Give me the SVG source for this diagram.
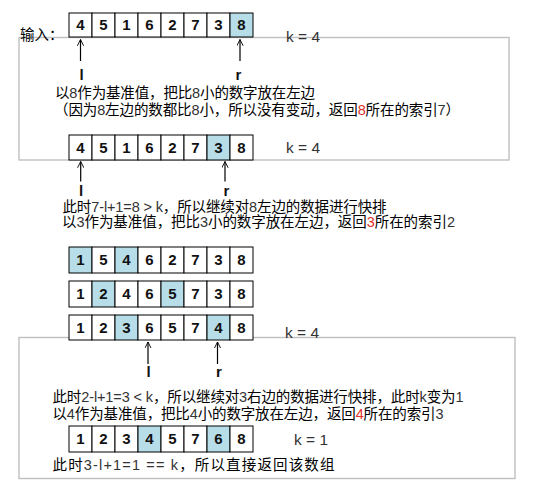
<svg xmlns="http://www.w3.org/2000/svg" width="533" height="480" viewBox="0 0 533 480">
<defs>
<marker id="ah" viewBox="0 0 10 10" refX="9" refY="5" markerWidth="7" markerHeight="7" markerUnits="userSpaceOnUse" orient="auto"><path d="M0,0.5 L9,5 L0,9.5" fill="none" stroke="#000" stroke-width="1.3"/></marker>
<style>
.frame{fill:none;stroke:#bfbfbf;stroke-width:1.4}
.c{fill:#fff;stroke:#000;stroke-width:1}
.h{fill:#b7dde8;stroke:#000;stroke-width:1}
.n{font-family:"Liberation Sans",Arial,sans-serif;font-weight:bold;font-size:15px;fill:#111;text-anchor:middle}
.lab{font-family:"Liberation Sans",Arial,sans-serif;font-weight:bold;font-size:15px;fill:#111;text-anchor:middle}
.k{font-family:"Liberation Sans",Arial,sans-serif;font-size:15.5px;fill:#333}
.t{font-family:"Liberation Sans","Noto Sans CJK SC",sans-serif;font-size:14.5px;fill:#000}
.d{fill:#333}
.r{fill:#e0302a}
.arr{stroke:#000;stroke-width:1.2;marker-end:url(#ah)}
</style>
</defs>
<rect width="533" height="480" fill="#fff"/>
<g id="frames">
<rect class="frame" x="19" y="37.5" width="490" height="122.5"/>
<rect class="frame" x="19" y="337.5" width="496" height="141"/>
</g>
<g id="input-label"><text class="t" x="20" y="39.5">输入：</text></g>

<g id="array1" transform="translate(69,13)">
<rect class="c" x="0" y="0" width="23" height="24"/><rect class="c" x="23" y="0" width="23" height="24"/><rect class="c" x="46" y="0" width="23" height="24"/><rect class="c" x="69" y="0" width="23" height="24"/><rect class="c" x="92" y="0" width="23" height="24"/><rect class="c" x="115" y="0" width="23" height="24"/><rect class="c" x="138" y="0" width="23" height="24"/><rect class="h" x="161" y="0" width="23" height="24"/>
<text class="n" x="11.5" y="17.4">4</text><text class="n" x="34.5" y="17.4">5</text><text class="n" x="57.5" y="17.4">1</text><text class="n" x="80.5" y="17.4">6</text><text class="n" x="103.5" y="17.4">2</text><text class="n" x="126.5" y="17.4">7</text><text class="n" x="149.5" y="17.4">3</text><text class="n" x="172.5" y="17.4">8</text>
</g>
<g id="k1"><text class="k" x="286" y="42">k = 4</text></g>

<g id="array2" transform="translate(69,135)">
<rect class="c" x="0" y="0" width="23" height="25"/><rect class="c" x="23" y="0" width="23" height="25"/><rect class="c" x="46" y="0" width="23" height="25"/><rect class="c" x="69" y="0" width="23" height="25"/><rect class="c" x="92" y="0" width="23" height="25"/><rect class="c" x="115" y="0" width="23" height="25"/><rect class="h" x="138" y="0" width="23" height="25"/><rect class="c" x="161" y="0" width="23" height="25"/>
<text class="n" x="11.5" y="17.9">4</text><text class="n" x="34.5" y="17.9">5</text><text class="n" x="57.5" y="17.9">1</text><text class="n" x="80.5" y="17.9">6</text><text class="n" x="103.5" y="17.9">2</text><text class="n" x="126.5" y="17.9">7</text><text class="n" x="149.5" y="17.9">3</text><text class="n" x="172.5" y="17.9">8</text>
</g>
<g id="k2"><text class="k" x="286" y="152.5">k = 4</text></g>

<g id="array3" transform="translate(69,247)">
<rect class="h" x="0" y="0" width="23" height="26"/><rect class="c" x="23" y="0" width="23" height="26"/><rect class="h" x="46" y="0" width="23" height="26"/><rect class="c" x="69" y="0" width="23" height="26"/><rect class="c" x="92" y="0" width="23" height="26"/><rect class="c" x="115" y="0" width="23" height="26"/><rect class="c" x="138" y="0" width="23" height="26"/><rect class="c" x="161" y="0" width="23" height="26"/>
<text class="n" x="11.5" y="18.4">1</text><text class="n" x="34.5" y="18.4">5</text><text class="n" x="57.5" y="18.4">4</text><text class="n" x="80.5" y="18.4">6</text><text class="n" x="103.5" y="18.4">2</text><text class="n" x="126.5" y="18.4">7</text><text class="n" x="149.5" y="18.4">3</text><text class="n" x="172.5" y="18.4">8</text>
</g>

<g id="array4" transform="translate(69,281)">
<rect class="c" x="0" y="0" width="23" height="26"/><rect class="h" x="23" y="0" width="23" height="26"/><rect class="c" x="46" y="0" width="23" height="26"/><rect class="c" x="69" y="0" width="23" height="26"/><rect class="h" x="92" y="0" width="23" height="26"/><rect class="c" x="115" y="0" width="23" height="26"/><rect class="c" x="138" y="0" width="23" height="26"/><rect class="c" x="161" y="0" width="23" height="26"/>
<text class="n" x="11.5" y="18.4">1</text><text class="n" x="34.5" y="18.4">2</text><text class="n" x="57.5" y="18.4">4</text><text class="n" x="80.5" y="18.4">6</text><text class="n" x="103.5" y="18.4">5</text><text class="n" x="126.5" y="18.4">7</text><text class="n" x="149.5" y="18.4">3</text><text class="n" x="172.5" y="18.4">8</text>
</g>

<g id="array5" transform="translate(69,315)">
<rect class="c" x="0" y="0" width="23" height="25"/><rect class="c" x="23" y="0" width="23" height="25"/><rect class="h" x="46" y="0" width="23" height="25"/><rect class="c" x="69" y="0" width="23" height="25"/><rect class="c" x="92" y="0" width="23" height="25"/><rect class="c" x="115" y="0" width="23" height="25"/><rect class="h" x="138" y="0" width="23" height="25"/><rect class="c" x="161" y="0" width="23" height="25"/>
<text class="n" x="11.5" y="17.9">1</text><text class="n" x="34.5" y="17.9">2</text><text class="n" x="57.5" y="17.9">3</text><text class="n" x="80.5" y="17.9">6</text><text class="n" x="103.5" y="17.9">5</text><text class="n" x="126.5" y="17.9">7</text><text class="n" x="149.5" y="17.9">4</text><text class="n" x="172.5" y="17.9">8</text>
</g>
<g id="k3"><text class="k" x="285" y="337.5">k = 4</text></g>

<g id="array6" transform="translate(69,426)">
<rect class="c" x="0" y="0" width="23" height="26"/><rect class="c" x="23" y="0" width="23" height="26"/><rect class="c" x="46" y="0" width="23" height="26"/><rect class="h" x="69" y="0" width="23" height="26"/><rect class="c" x="92" y="0" width="23" height="26"/><rect class="c" x="115" y="0" width="23" height="26"/><rect class="h" x="138" y="0" width="23" height="26"/><rect class="c" x="161" y="0" width="23" height="26"/>
<text class="n" x="11.5" y="18.4">1</text><text class="n" x="34.5" y="18.4">2</text><text class="n" x="57.5" y="18.4">3</text><text class="n" x="80.5" y="18.4">4</text><text class="n" x="103.5" y="18.4">5</text><text class="n" x="126.5" y="18.4">7</text><text class="n" x="149.5" y="18.4">6</text><text class="n" x="172.5" y="18.4">8</text>
</g>
<g id="k4"><text class="k" x="294" y="445">k = 1</text></g>

<g id="connectors">
<line class="arr" x1="80.5" y1="61" x2="80.5" y2="39.5"/>
<line class="arr" x1="240" y1="61" x2="240" y2="39.5"/>
<line class="arr" x1="80.7" y1="181.5" x2="80.7" y2="161.5"/>
<line class="arr" x1="225" y1="181.5" x2="225" y2="161.5"/>
<line class="arr" x1="148" y1="364" x2="148" y2="342"/>
<line class="arr" x1="217.5" y1="364" x2="217.5" y2="342"/>
</g>

<g id="pointer-labels">
<text class="lab" x="81.5" y="80">l</text>
<text class="lab" x="238.5" y="80">r</text>
<text class="lab" x="81" y="196">l</text>
<text class="lab" x="226.5" y="196">r</text>
<text class="lab" x="148.5" y="377">l</text>
<text class="lab" x="219" y="377">r</text>
</g>

<g id="step1-text">
<text class="t" x="55" y="98" textLength="260">以<tspan class="d">8</tspan>作为基准值，把比<tspan class="d">8</tspan>小的数字放在左边</text>
<text class="t" x="54" y="115" textLength="406">（因为<tspan class="d">8</tspan>左边的数都比<tspan class="d">8</tspan>小，所以没有变动，返回<tspan class="r">8</tspan>所在的索引<tspan class="d">7</tspan>）</text>
</g>
<g id="step2-text">
<text class="t" x="62.5" y="211.5" textLength="324">此时<tspan class="d">7-l+1=8 &gt; k</tspan>，所以继续对<tspan class="d">8</tspan>左边的数据进行快排</text>
<text class="t" x="62" y="227" textLength="393">以<tspan class="d">3</tspan>作为基准值，把比<tspan class="d">3</tspan>小的数字放在左边，返回<tspan class="r">3</tspan>所在的索引<tspan class="d">2</tspan></text>
</g>
<g id="step3-text">
<text class="t" x="52.5" y="402" textLength="411">此时<tspan class="d">2-l+1=3 &lt; k</tspan>，所以继续对<tspan class="d">3</tspan>右边的数据进行快排，此时<tspan class="d">k</tspan>变为<tspan class="d">1</tspan></text>
<text class="t" x="52.5" y="419" textLength="391">以<tspan class="d">4</tspan>作为基准值，把比<tspan class="d">4</tspan>小的数字放在左边，返回<tspan class="r">4</tspan>所在的索引<tspan class="d">3</tspan></text>
</g>
<g id="step4-text">
<text class="t" x="52.5" y="469.5" textLength="282">此时<tspan class="d">3-l+1=1 == k</tspan>，所以直接返回该数组</text>
</g>
</svg>
